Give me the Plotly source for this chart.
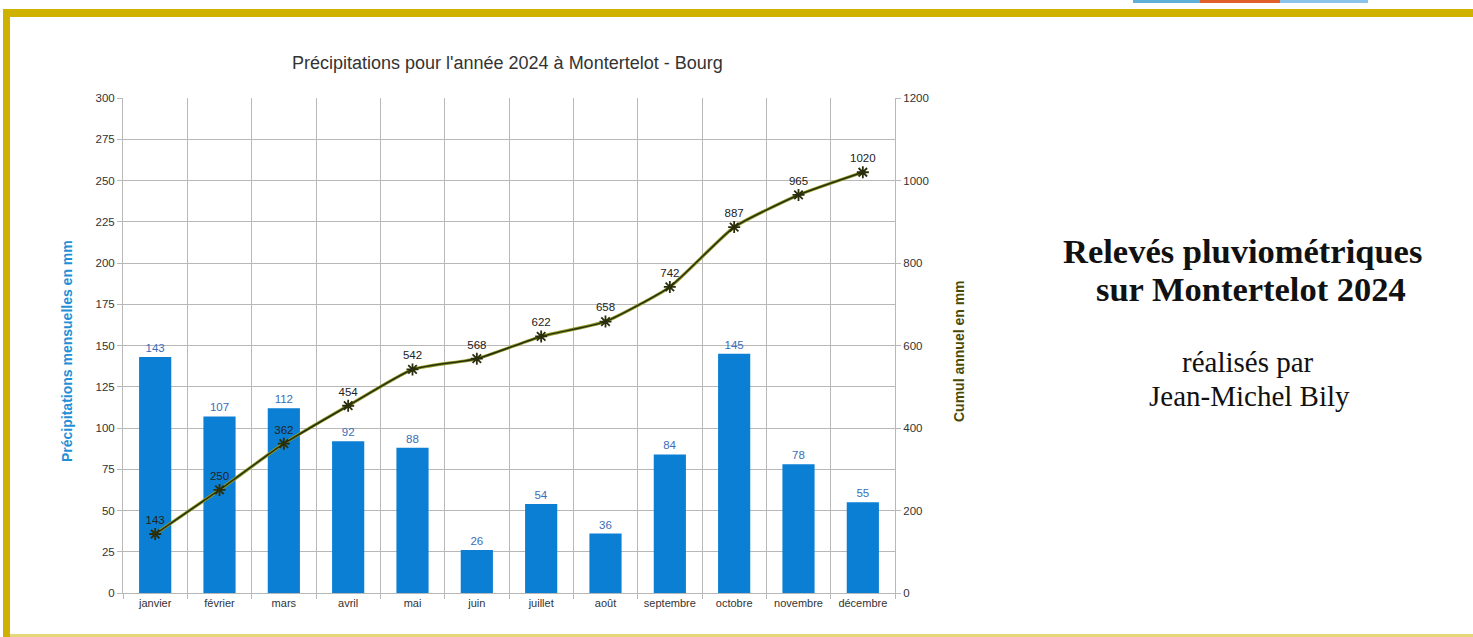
import plotly.graph_objects as go

W, H = 1473, 637

months = ["janvier", "février", "mars", "avril", "mai", "juin", "juillet",
          "août", "septembre", "octobre", "novembre", "décembre"]
monthly = [143, 107, 112, 92, 88, 26, 54, 36, 84, 145, 78, 55]
cumul = [143, 250, 362, 454, 542, 568, 622, 658, 742, 887, 965, 1020]
left_ticks = [0, 25, 50, 75, 100, 125, 150, 175, 200, 225, 250, 275, 300]
right_ticks = [0, 200, 400, 600, 800, 1000, 1200]

title_text = "Précipitations pour l'année 2024 à Montertelot - Bourg"
left_title = "Précipitations mensuelles en mm"
right_title = "Cumul annuel en mm"
side_lines = ["Relevés pluviométriques", "sur Montertelot 2024", "réalisés par", "Jean-Michel Bily"]

def px(x):
    return x / W

def py(y):
    return 1 - y / H

fig = go.Figure()

fig.add_trace(go.Bar(
    x=months, y=monthly, width=0.5,
    marker=dict(color="#0a7fd4", line=dict(width=0)),
    text=[str(v) for v in monthly], textposition="outside",
    textfont=dict(family="Liberation Sans", size=11.5, color="#3b6db8"),
    cliponaxis=False, yaxis="y", showlegend=False,
))

fig.add_trace(go.Scatter(
    x=months, y=cumul, yaxis="y2", mode="lines",
    line=dict(color="#8f9c2a", width=3.2, shape="spline", smoothing=0.5),
    hoverinfo="skip", showlegend=False,
))
fig.add_trace(go.Scatter(
    x=months, y=cumul, yaxis="y2", mode="lines+markers+text",
    line=dict(color="#2a2e0a", width=1.5, shape="spline", smoothing=0.5),
    marker=dict(symbol="asterisk-open", size=10, line=dict(color="#2a4a10", width=1.8)),
    text=[str(v) for v in cumul], textposition="top center",
    textfont=dict(family="Liberation Sans", size=11.5, color="#222222"),
    cliponaxis=False, showlegend=False,
))

axis_font = dict(family="Liberation Sans", size=11, color="#333333")
yaxis_font = dict(family="Liberation Sans", size=11.5, color="#333333")

fig.update_layout(
    width=W, height=H,
    margin=dict(l=0, r=0, t=0, b=0, autoexpand=False),
    paper_bgcolor="white", plot_bgcolor="white",
    xaxis=dict(
        domain=[px(123), px(895)], type="category", automargin=False,
        range=[-0.5, len(months) - 0.5],
        tickson="boundaries", showgrid=True, gridcolor="#b8b8b8", gridwidth=1,
        ticks="outside", ticklen=5, tickcolor="#b8b8b8", tickangle=0,
        showline=True, linecolor="#b8b8b8", linewidth=1,
        tickfont=axis_font,
    ),
    yaxis=dict(
        domain=[py(593), py(98)], range=[0, 300], tickvals=left_ticks, automargin=False,
        showgrid=True, gridcolor="#b8b8b8", gridwidth=1,
        ticks="outside", ticklen=5, tickcolor="#b8b8b8",
        showline=True, linecolor="#b8b8b8", linewidth=1,
        tickfont=yaxis_font, zeroline=False,
    ),
    yaxis2=dict(
        overlaying="y", side="right", range=[0, 1200], tickvals=right_ticks, automargin=False,
        showgrid=False, ticks="outside", ticklen=5, tickcolor="#b8b8b8",
        showline=True, linecolor="#b8b8b8", linewidth=1,
        tickfont=yaxis_font, zeroline=False,
    ),
    font=dict(family="Liberation Sans"),
)

def ann(x, y, text, font, angle=0):
    return dict(xref="paper", yref="paper", x=px(x), y=py(y), text=text, showarrow=False,
                textangle=angle, font=font, xanchor="center", yanchor="middle")

annotations = [
    ann(507, 63, title_text, dict(family="Liberation Sans", size=18, color="#333333")),
    ann(67, 351, "<b>" + left_title + "</b>",
        dict(family="Liberation Sans", size=14, color="#1f8fd6"), -90),
    ann(959, 351, "<b>" + right_title + "</b>",
        dict(family="Liberation Sans", size=14, color="#4a4a06"), -90),
    ann(1242, 251, "<b>" + side_lines[0] + "</b>",
        dict(family="Liberation Serif", size=34.5, color="#111111")),
    ann(1251, 289, "<b>" + side_lines[1] + "</b>",
        dict(family="Liberation Serif", size=34.5, color="#111111")),
    ann(1248, 362, side_lines[2], dict(family="Liberation Serif", size=29, color="#111111")),
    ann(1249, 396, side_lines[3], dict(family="Liberation Serif", size=29, color="#111111")),
]
fig.update_layout(annotations=annotations)

gold = "#cfb200"
shapes = [
    dict(type="rect", xref="paper", yref="paper", x0=px(3), x1=1, y0=py(17), y1=py(9),
         fillcolor=gold, line=dict(width=0), layer="above"),
    dict(type="rect", xref="paper", yref="paper", x0=px(3), x1=px(10), y0=0, y1=py(9),
         fillcolor=gold, line=dict(width=0), layer="above"),
    dict(type="rect", xref="paper", yref="paper", x0=px(10), x1=1, y0=0, y1=py(634),
         fillcolor="#e6d87a", line=dict(width=0), layer="above"),
    dict(type="rect", xref="paper", yref="paper", x0=px(1133), x1=px(1200), y0=py(3), y1=1,
         fillcolor="#5fb0d8", line=dict(width=0), layer="above"),
    dict(type="rect", xref="paper", yref="paper", x0=px(1200), x1=px(1280), y0=py(3), y1=1,
         fillcolor="#e0602a", line=dict(width=0), layer="above"),
    dict(type="rect", xref="paper", yref="paper", x0=px(1280), x1=px(1368), y0=py(3), y1=1,
         fillcolor="#8ac4ea", line=dict(width=0), layer="above"),
]
fig.update_layout(shapes=shapes)

fig.write_html("out.html",
               config={"displayModeBar": False},
               post_script="document.body.style.margin='0px';document.body.style.overflow='hidden';")
